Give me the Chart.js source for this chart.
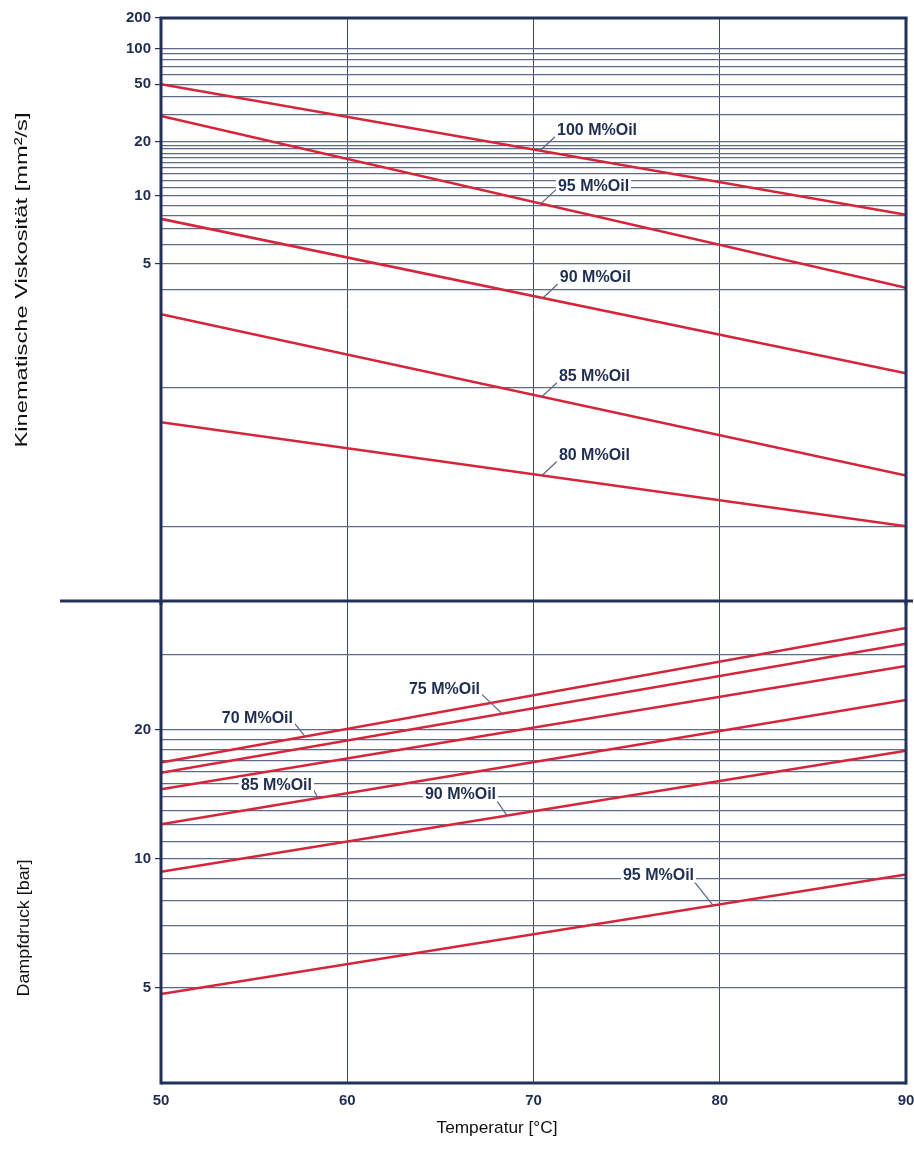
<!DOCTYPE html>
<html>
<head>
<meta charset="utf-8">
<script src="https://cdn.jsdelivr.net/npm/chart.js@4.4.1/dist/chart.umd.min.js"></script>
<style>
    html, body { margin: 0; padding: 0; background: #fff; }
    #wrap { position: relative; width: 914px; height: 1169px; }
    #top { position: absolute; left: 0; top: 0; }
    #bottom { position: absolute; left: 0; top: 590px; }
</style>
</head>
<body>
<div id="wrap">
    <canvas id="top" width="914" height="605"></canvas>
    <canvas id="bottom" width="914" height="579"></canvas>
</div>
<script>
// temperature axis
const temps = [50, 90];
const tempTicks = [50, 60, 70, 80, 90];

// kinematic viscosity [mm²/s] at 50 and 90 °C
const viscNames = ['100 M%Oil', '95 M%Oil', '90 M%Oil', '85 M%Oil', '80 M%Oil'];
const viscAt50 = [50, 29.3, 7.76, 3.3, 1.64];
const viscAt90 = [8.1, 4.07, 2.19, 1.25, 1.0];
const viscGrid = [1, 2, 4, 5, 6, 7, 8, 9, 10, 11, 12, 13, 14, 15, 16, 17, 18, 19, 20, 30, 40, 50, 60, 70, 80, 90, 100, 200];
const viscTickLabels = [200, 100, 50, 20, 10, 5];

// vapour pressure [bar] at 50 and 90 °C
const pressNames = ['70 M%Oil', '75 M%Oil', '80 M%Oil', '85 M%Oil', '90 M%Oil', '95 M%Oil'];
const pressAt50 = [16.8, 15.9, 14.55, 12.05, 9.33, 4.84];
const pressAt90 = [34.6, 31.8, 28.2, 23.5, 17.9, 9.2];
const pressGrid = [5, 6, 7, 8, 9, 10, 11, 12, 13, 14, 15, 16, 17, 18, 19, 20, 30];
const pressTickLabels = [20, 10, 5];

// which series get a callout, and where the text sits relative to the line
const viscCallouts = [
    { series: 0, t: 70.35, dy: -21 },
    { series: 1, t: 70.4, dy: -18 },
    { series: 2, t: 70.5, dy: -21 },
    { series: 3, t: 70.45, dy: -21 },
    { series: 4, t: 70.45, dy: -21 }
];
const pressCallouts = [
    { series: 0, t: 57.73, lx: -12, ly: -15, dy: -4 },
    { series: 1, t: 68.31, lx: -22, ly: -21, dy: -4 },
    { series: 3, t: 58.43, lx: -6, ly: -11, dy: -2 },
    { series: 4, t: 68.58, lx: -11, ly: -16, dy: -6 },
    { series: 5, t: 79.64, lx: -19, ly: -24, dy: -7 }
];

const RED = '#d6243a';
const NAVY = '#22305a';
const TEXT = '#1f2d50';
const HGRID = '#5f6b85';
const VGRID = '#3d4a6c';
const tickFont = { family: 'Liberation Sans', size: 15, weight: 'bold' };

// Ubbelohde-Walther scale: log(log(v + 0.7))
const walther = v => Math.log10(Math.log10(v + 0.7));

class WaltherScale extends Chart.Scale {
    determineDataLimits() {
        this.min = this.options.min;
        this.max = this.options.max;
    }
    buildTicks() {
        return viscGrid.map(v => ({ value: v }));
    }
    configure() {
        super.configure();
        this._startW = walther(this.min);
        this._rangeW = walther(this.max) - this._startW;
    }
    getLabelForValue(v) {
        return String(v);
    }
    getPixelForValue(v) {
        return this.getPixelForDecimal((walther(v) - this._startW) / this._rangeW);
    }
    getValueForPixel(p) {
        const w = this._startW + this.getDecimalForPixel(p) * this._rangeW;
        return Math.pow(10, Math.pow(10, w)) - 0.7;
    }
}
WaltherScale.id = 'walther';
WaltherScale.defaults = {};
Chart.register(WaltherScale);

function makeDatasets(names, at50, at90) {
    return names.map(function(name, i) {
        return {
            label: name,
            data: [{ x: temps[0], y: at50[i] }, { x: temps[1], y: at90[i] }],
            borderColor: RED,
            borderWidth: 2.5,
            pointRadius: 0,
            tension: 0
        };
    });
}

function pointOnLine(chart, series, t) {
    const pts = chart.getDatasetMeta(series).data;
    const x = chart.scales.x.getPixelForValue(t);
    const f = (x - pts[0].x) / (pts[1].x - pts[0].x);
    return { x: x, y: pts[0].y + f * (pts[1].y - pts[0].y) };
}

function drawTag(ctx, text, x, y, align) {
    ctx.font = 'bold 16px Liberation Sans';
    const w = ctx.measureText(text).width;
    const left = align === 'right' ? x - w : x;
    ctx.fillStyle = '#fff';
    ctx.fillRect(left - 2, y - 8, w + 4, 16);
    ctx.fillStyle = TEXT;
    ctx.textBaseline = 'middle';
    ctx.textAlign = 'left';
    ctx.fillText(text, left, y + 1);
}

function drawLeader(ctx, x1, y1, x2, y2) {
    ctx.strokeStyle = '#5a6580';
    ctx.lineWidth = 1.2;
    ctx.beginPath();
    ctx.moveTo(x1, y1);
    ctx.lineTo(x2, y2);
    ctx.stroke();
}

function drawStretched(ctx, text, cx, cy, length, vertical) {
    ctx.save();
    ctx.font = '17px Liberation Sans';
    const w = ctx.measureText(text).width;
    ctx.translate(cx, cy);
    if (vertical) ctx.rotate(-Math.PI / 2);
    ctx.scale(length / w, 1);
    ctx.fillStyle = '#111';
    ctx.textAlign = 'center';
    ctx.textBaseline = 'middle';
    ctx.fillText(text, 0, 0);
    ctx.restore();
}

function frameLine(ctx, x1, y1, x2, y2) {
    ctx.strokeStyle = NAVY;
    ctx.lineWidth = 3;
    ctx.beginPath();
    ctx.moveTo(x1, y1);
    ctx.lineTo(x2, y2);
    ctx.stroke();
}

const topDecor = {
    id: 'topDecor',
    afterDraw: function(chart) {
        const ctx = chart.ctx;
        const a = chart.chartArea;
        ctx.save();
        viscCallouts.forEach(function(c) {
            const p = pointOnLine(chart, c.series, c.t);
            drawLeader(ctx, p.x, p.y, p.x + 15, p.y - 14);
            drawTag(ctx, viscNames[c.series], p.x + 17, p.y + c.dy, 'left');
        });
        frameLine(ctx, a.left - 1.5, a.top, a.right + 1.5, a.top);
        frameLine(ctx, a.left, a.top, a.left, a.bottom + 4);
        frameLine(ctx, a.right, a.top, a.right, a.bottom + 4);
        drawStretched(ctx, 'Kinematische Viskosität [mm²/s]', 22, 280, 335, true);
        ctx.restore();
    }
};

const bottomDecor = {
    id: 'bottomDecor',
    afterDraw: function(chart) {
        const ctx = chart.ctx;
        const a = chart.chartArea;
        ctx.save();
        pressCallouts.forEach(function(c) {
            const p = pointOnLine(chart, c.series, c.t);
            const ex = p.x + c.lx, ey = p.y + c.ly;
            drawLeader(ctx, p.x, p.y, ex, ey);
            drawTag(ctx, pressNames[c.series], ex, ey + c.dy, 'right');
        });
        frameLine(ctx, 60, a.top, 913, a.top);
        frameLine(ctx, a.left, a.top, a.left, a.bottom + 1.5);
        frameLine(ctx, a.right, a.top, a.right, a.bottom + 1.5);
        frameLine(ctx, a.left, a.bottom, a.right, a.bottom);
        drawStretched(ctx, 'Dampfdruck [bar]', 24, 338, 137, true);
        drawStretched(ctx, 'Temperatur [°C]', 497, 538, 121, false);
        ctx.restore();
    }
};

function tempAxis(showLabels, height) {
    return {
        type: 'linear',
        position: 'bottom',
        min: temps[0],
        max: temps[1],
        afterBuildTicks: function(scale) {
            scale.ticks = tempTicks.map(v => ({ value: v }));
        },
        ticks: { display: showLabels, font: tickFont, color: TEXT, padding: 9, maxRotation: 0 },
        grid: { color: VGRID, lineWidth: 1, drawTicks: false },
        border: { display: false },
        afterFit: function(scale) {
            scale.height = height;
            scale.paddingLeft = 0;
            scale.paddingRight = 0;
        }
    };
}

function fixYAxis(scale) {
    scale.width = 161;
    scale.paddingTop = 0;
    scale.paddingBottom = 0;
}

new Chart(document.getElementById('top'), {
    type: 'line',
    data: { datasets: makeDatasets(viscNames, viscAt50, viscAt90) },
    options: {
        responsive: false,
        animation: false,
        layout: { padding: { left: 0, top: 18, right: 8, bottom: 4 } },
        plugins: { legend: { display: false }, tooltip: { enabled: false } },
        scales: {
            x: tempAxis(false, 0),
            y: {
                type: 'walther',
                position: 'left',
                min: 0.76,
                max: 200,
                ticks: {
                    autoSkip: false,
                    font: tickFont,
                    color: TEXT,
                    padding: 4,
                    callback: v => viscTickLabels.includes(v) ? String(v) : ''
                },
                grid: {
                    color: HGRID,
                    lineWidth: 1.2,
                    tickLength: 6,
                    tickColor: ctx => (ctx.tick && viscTickLabels.includes(ctx.tick.value)) ? NAVY : 'rgba(0,0,0,0)'
                },
                border: { display: false },
                afterFit: fixYAxis
            }
        }
    },
    plugins: [topDecor]
});

new Chart(document.getElementById('bottom'), {
    type: 'line',
    data: { datasets: makeDatasets(pressNames, pressAt50, pressAt90) },
    options: {
        responsive: false,
        animation: false,
        layout: { padding: { left: 0, top: 11, right: 8, bottom: 0 } },
        plugins: { legend: { display: false }, tooltip: { enabled: false } },
        scales: {
            x: tempAxis(true, 86),
            y: {
                type: 'logarithmic',
                position: 'left',
                min: 3,
                max: 40,
                bounds: 'data',
                afterBuildTicks: function(scale) {
                    scale.ticks = pressGrid.map(v => ({ value: v }));
                },
                ticks: {
                    autoSkip: false,
                    font: tickFont,
                    color: TEXT,
                    padding: 4,
                    callback: v => pressTickLabels.includes(v) ? String(v) : ''
                },
                grid: {
                    color: HGRID,
                    lineWidth: 1.2,
                    tickLength: 6,
                    tickColor: ctx => (ctx.tick && pressTickLabels.includes(ctx.tick.value)) ? NAVY : 'rgba(0,0,0,0)'
                },
                border: { display: false },
                afterFit: fixYAxis
            }
        }
    },
    plugins: [bottomDecor]
});
</script>
</body>
</html>
